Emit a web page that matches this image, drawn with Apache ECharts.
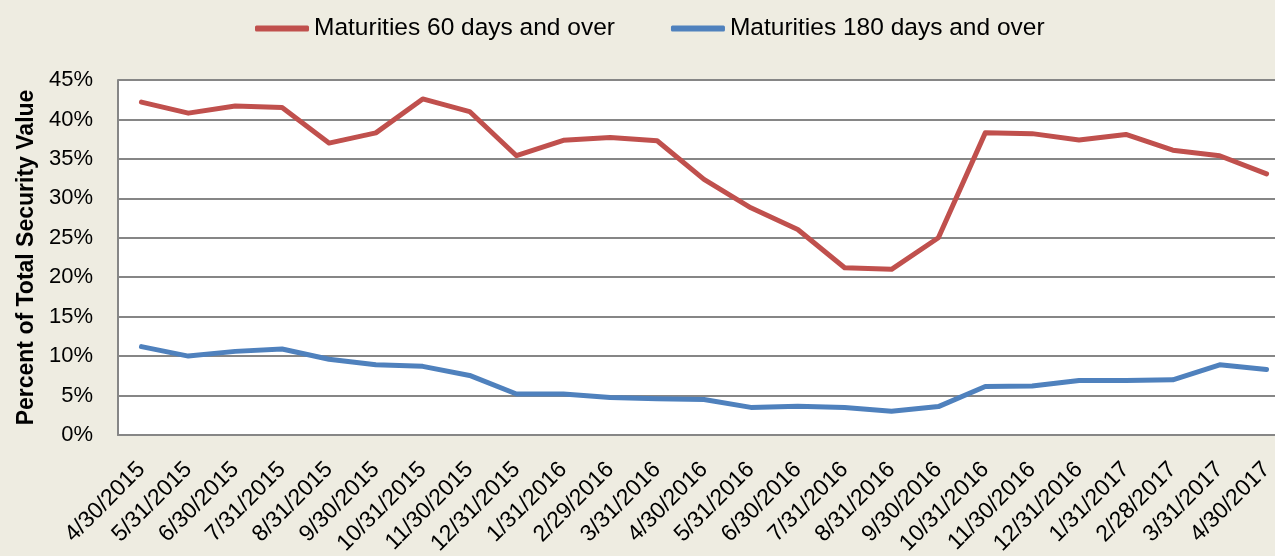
<!DOCTYPE html>
<html>
<head>
<meta charset="utf-8">
<script src="https://cdn.jsdelivr.net/npm/echarts@6/dist/echarts.min.js"></script>
<style>
html,body{margin:0;padding:0;background:#EEECE1;}
#chart{width:1275px;height:556px;}
</style>
</head>
<body>
<div id="chart"></div>
<script>
const categories = ["4/30/2015","5/31/2015","6/30/2015","7/31/2015","8/31/2015","9/30/2015","10/31/2015","11/30/2015","12/31/2015","1/31/2016","2/29/2016","3/31/2016","4/30/2016","5/31/2016","6/30/2016","7/31/2016","8/31/2016","9/30/2016","10/31/2016","11/30/2016","12/31/2016","1/31/2017","2/28/2017","3/31/2017","4/30/2017"];
const seriesNames = ["Maturities 60 days and over","Maturities 180 days and over"];
const maturities60 = [42.2,40.8,41.7,41.5,37.0,38.3,42.6,41.0,35.4,37.35,37.7,37.3,32.4,28.8,26.05,21.2,21.0,25.0,38.3,38.2,37.4,38.1,36.1,35.4,33.1];
const maturities180 = [11.2,10.0,10.6,10.9,9.6,8.9,8.7,7.55,5.2,5.2,4.75,4.6,4.5,3.5,3.65,3.5,3.0,3.6,6.15,6.2,6.9,6.9,7.0,8.9,8.3];
const yTicks = {min:0, max:45, interval:5};

const FONT = "Liberation Sans";
const chart = echarts.init(document.getElementById('chart'), null, {renderer:'canvas'});
chart.setOption({
  backgroundColor: '#EEECE1',
  animation: false,
  textStyle: {fontFamily: FONT, color: '#000'},
  legend: {
    top: 11, left: 250,
    itemWidth: 54, itemHeight: 6, itemGap: 56,
    icon: 'roundRect',
    textStyle: {fontFamily: FONT, fontSize: 24.5, color: '#000'},
    data: seriesNames
  },
  grid: {left: 118, top: 80, width: 1172, height: 355, show: true, backgroundColor: '#FFFFFF', borderWidth: 0, containLabel: false, outerBoundsMode: 'none'},
  xAxis: {
    type: 'category', data: categories, boundaryGap: true,
    axisLine: {show: true, lineStyle: {color: '#868686', width: 2}},
    axisTick: {show: false},
    axisLabel: {rotate: 45, margin: 31, fontSize: 23, color: '#000', fontFamily: FONT, interval: 0}
  },
  yAxis: {
    type: 'value', min: yTicks.min, max: yTicks.max, interval: yTicks.interval,
    name: 'Percent of Total Security Value', nameLocation: 'middle', nameGap: 80,
    nameTextStyle: {fontFamily: FONT, fontSize: 23, fontWeight: 'bold', color: '#000'},
    axisLine: {show: true, lineStyle: {color: '#868686', width: 2}},
    axisTick: {show: false},
    axisLabel: {formatter: '{value}%', fontSize: 22, color: '#000', margin: 25, fontFamily: FONT},
    splitLine: {show: true, lineStyle: {color: '#868686', width: 2}}
  },
  series: [
    {name: seriesNames[0], type: 'line', data: maturities60, symbol: 'none', color: '#C0504D',
     lineStyle: {width: 5, color: '#C0504D', cap: 'round', join: 'round'}},
    {name: seriesNames[1], type: 'line', data: maturities180, symbol: 'none', color: '#4F81BD',
     lineStyle: {width: 5, color: '#4F81BD', cap: 'round', join: 'round'}}
  ]
});
</script>
</body>
</html>
